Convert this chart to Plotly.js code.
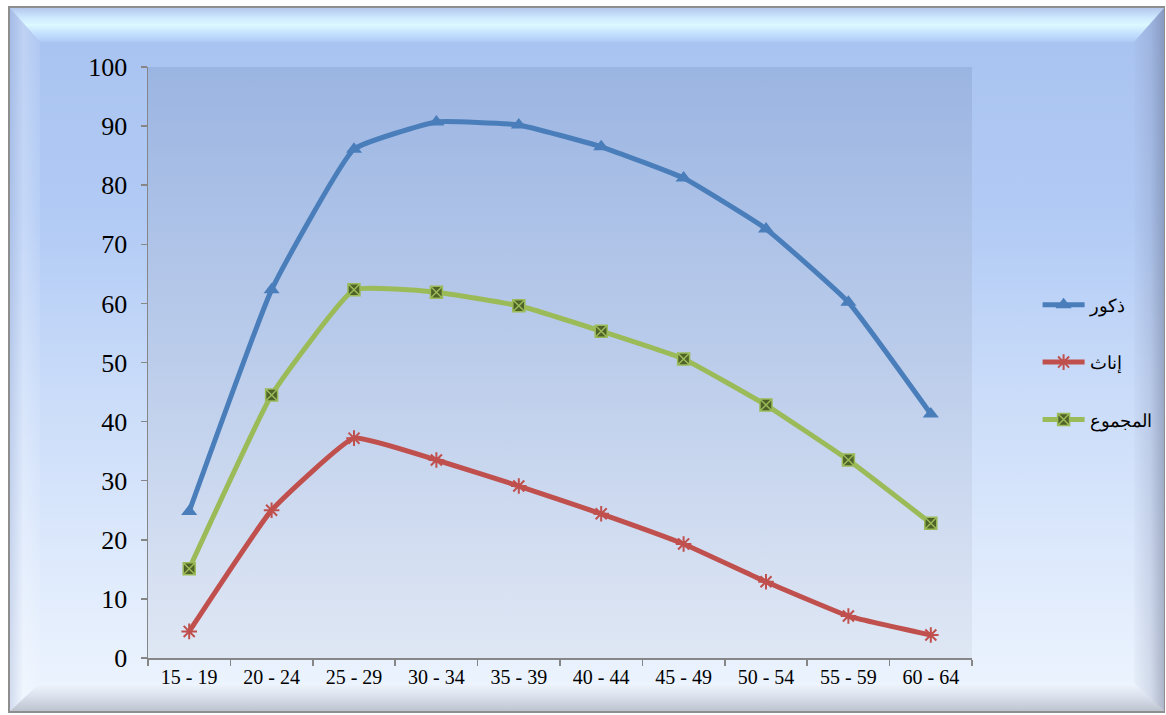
<!DOCTYPE html>
<html>
<head>
<meta charset="utf-8">
<script src="https://cdn.plot.ly/plotly-3.0.1.min.js"></script>
<style>
  html, body { margin: 0; padding: 0; width: 1166px; height: 715px; overflow: hidden; background: #ffffff; }
  #frame {
    position: absolute; left: 8px; top: 6px; width: 1157px; height: 707px;
    box-sizing: border-box; border: 2px solid #8e8e8e; border-right-width: 1px;
    background: linear-gradient(to bottom, #a8c2f0 0%, #b2cbf5 30%, #cadcf9 55%, #dde9fc 78%, #eef5fe 100%);
    overflow: hidden;
  }
  .bevel { position: absolute; }
  #bv-top {
    left: 0; top: 0; right: 0; height: 34px;
    clip-path: polygon(0 0, 100% 0, calc(100% - 30px) 100%, 30px 100%);
    background: linear-gradient(to bottom, #b4c8ec 0%, #cfeaff 30%, #dcf8ff 50%, #c4e0ff 75%, #b0caf6 100%);
  }
  #bv-left {
    left: 0; top: 0; width: 30px; bottom: 0;
    clip-path: polygon(0 0, 100% 34px, 100% calc(100% - 28px), 0 100%);
    background: linear-gradient(to right, rgba(160,175,210,0.35) 0%, rgba(255,255,255,0.25) 45%, rgba(255,255,255,0.08) 100%);
  }
  #bv-right {
    right: 0; top: 0; width: 30px; bottom: 0;
    clip-path: polygon(0 34px, 100% 0, 100% 100%, 0 calc(100% - 28px));
    background: linear-gradient(to right, rgba(140,150,180,0.05) 0%, rgba(120,130,165,0.22) 55%, rgba(95,105,135,0.45) 100%);
  }
  #bv-bottom {
    left: 0; right: 0; bottom: 0; height: 28px;
    clip-path: polygon(30px 0, calc(100% - 30px) 0, 100% 100%, 0 100%);
    background: linear-gradient(to bottom, rgba(255,255,255,0.25) 0%, rgba(170,175,190,0.25) 45%, rgba(130,135,150,0.45) 100%);
  }
  #chart { position: absolute; left: 0; top: 0; width: 1166px; height: 715px; }
</style>
</head>
<body>
<div id="frame">
  <div class="bevel" id="bv-top"></div>
  <div class="bevel" id="bv-left"></div>
  <div class="bevel" id="bv-right"></div>
  <div class="bevel" id="bv-bottom"></div>
</div>
<div id="chart"></div>
<script>
// Age groups
const ageGroups = ['15 - 19', '20 - 24', '25 - 29', '30 - 34', '35 - 39', '40 - 44', '45 - 49', '50 - 54', '55 - 59', '60 - 64'];

// Rates by age group
const males   = [24.8, 62.3, 86.1, 90.7, 90.2, 86.5, 81.2, 72.6, 60.2, 41.3];
const females = [4.5, 25.0, 37.2, 33.5, 29.1, 24.4, 19.3, 12.9, 7.1, 3.9];
const total   = [15.1, 44.5, 62.3, 61.9, 59.6, 55.3, 50.6, 42.8, 33.5, 22.8];

const seriesNames = ['ذكور', 'إناث', 'المجموع'];

const yTicks = [0, 10, 20, 30, 40, 50, 60, 70, 80, 90, 100];

const serif = 'Liberation Serif, Times New Roman, DejaVu Serif, serif';

const plotGradient = 'data:image/svg+xml;utf8,' + encodeURIComponent(
  '<svg xmlns="http://www.w3.org/2000/svg" width="100" height="100" preserveAspectRatio="none">' +
  '<defs><linearGradient id="g" x1="0" y1="0" x2="0" y2="1">' +
  '<stop offset="0" stop-color="#9bb5e2"/>' +
  '<stop offset="0.5" stop-color="#bccdeb"/>' +
  '<stop offset="1" stop-color="#dfe7f4"/>' +
  '</linearGradient></defs>' +
  '<rect width="100" height="100" fill="url(#g)"/></svg>'
);

const lineShape = { shape: 'spline', smoothing: 0.35, width: 5 };

const traces = [
  {
    x: ageGroups, y: males, name: seriesNames[0], type: 'scatter', mode: 'lines+markers',
    legendgroup: 'm',
    line: Object.assign({ color: '#4a7ebb' }, lineShape),
    marker: { symbol: 'triangle-up', size: 14, color: '#4a7ebb', line: { width: 0 } }
  },
  {
    x: ageGroups, y: females, name: seriesNames[1], type: 'scatter', mode: 'lines+markers',
    legendgroup: 'f',
    line: Object.assign({ color: '#c0504d' }, lineShape),
    marker: { symbol: 'asterisk-open', size: 13, color: '#c0504d', line: { width: 2, color: '#c0504d' } }
  },
  {
    x: ageGroups, y: total, name: seriesNames[2], type: 'scatter', mode: 'lines+markers',
    legendgroup: 't',
    line: Object.assign({ color: '#9bbb59' }, lineShape),
    marker: { symbol: 'square-x', size: 12, color: '#4f6228', line: { width: 1.5, color: '#9bbb59' } }
  }
];

const layout = {
  width: 1166, height: 715,
  margin: { l: 148, r: 194, t: 67, b: 57, autoexpand: false },
  paper_bgcolor: 'rgba(0,0,0,0)',
  plot_bgcolor: 'rgba(0,0,0,0)',
  font: { family: serif, color: '#000000' },
  showlegend: true,
  legend: {
    x: 1.0796, xanchor: 'left', y: 0.50, yanchor: 'middle',
    bgcolor: 'rgba(0,0,0,0)', borderwidth: 0,
    tracegroupgap: 31, itemwidth: 42,
    font: { size: 18, family: serif, color: '#000000' }
  },
  xaxis: {
    type: 'category', range: [-0.5, 9.5], automargin: false,
    showline: true, linecolor: '#868686', linewidth: 1.5,
    ticks: 'outside', tickson: 'boundaries', ticklen: 6, tickcolor: '#868686', tickwidth: 1.5,
    showgrid: false, zeroline: false,
    tickfont: { size: 20, family: serif, color: '#000000' }
  },
  yaxis: {
    range: [0, 100], tickvals: yTicks, automargin: false,
    showline: true, linecolor: '#868686', linewidth: 1.5,
    ticks: 'outside', ticklen: 6, tickcolor: '#868686', tickwidth: 1.5,
    ticklabelstandoff: 8,
    showgrid: false, zeroline: false,
    tickfont: { size: 26, family: serif, color: '#000000' }
  },
  images: [{
    source: plotGradient, xref: 'paper', yref: 'paper',
    x: 0, y: 1, sizex: 1, sizey: 1, xanchor: 'left', yanchor: 'top',
    sizing: 'stretch', layer: 'below'
  }]
};

Plotly.newPlot('chart', traces, layout, { displayModeBar: false, staticPlot: true });
</script>
</body>
</html>
